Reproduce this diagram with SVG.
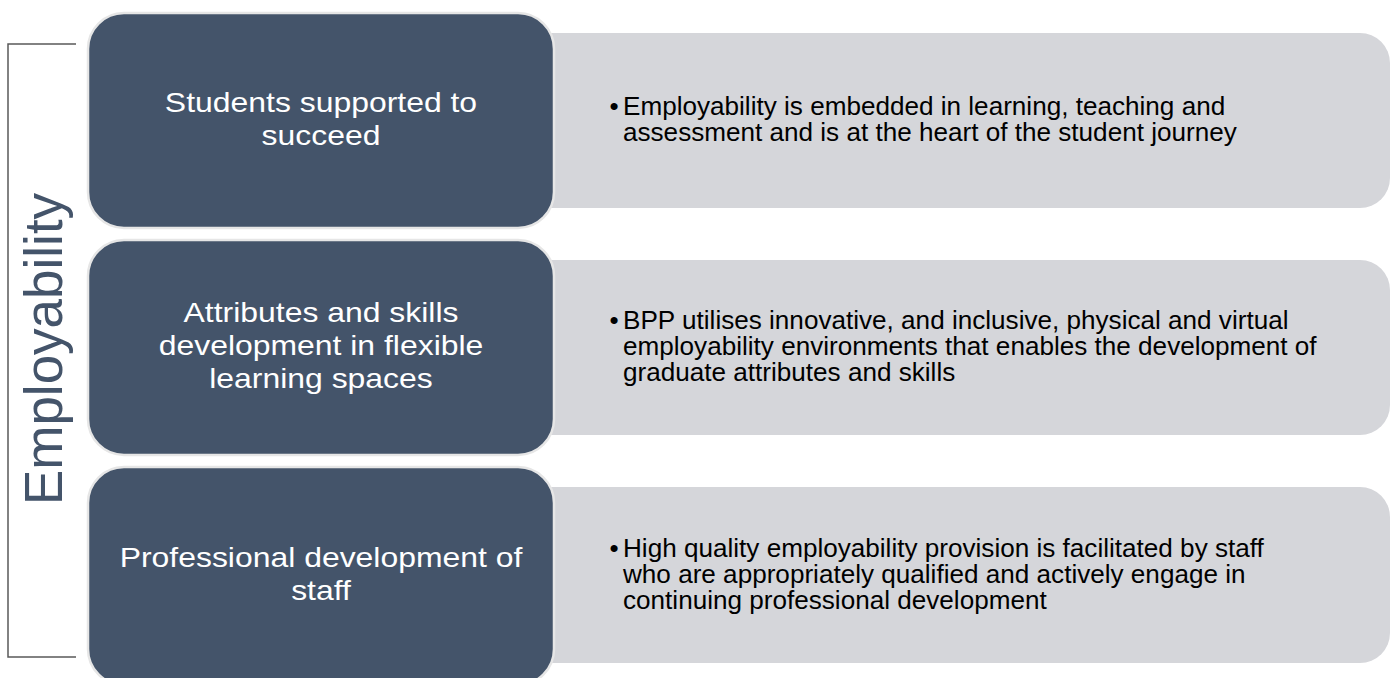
<svg xmlns="http://www.w3.org/2000/svg" width="1396" height="678" viewBox="0 0 1396 678">
  <style>
    .light { fill: #D5D6DA; }
    .dark { fill: #44546A; stroke: #E6E6E6; stroke-width: 2.5; }
    .dtext { font-family: "Liberation Sans", Arial, sans-serif; font-size: 28.5px; fill: #FFFFFF; text-anchor: middle; }
    .ltext { font-family: "Liberation Sans", Arial, sans-serif; font-size: 25px; fill: #000000; }
    .vtext { font-family: "Liberation Sans", Arial, sans-serif; font-size: 53px; fill: #44546A; text-anchor: middle; }
    .bracket { fill: none; stroke: #595959; stroke-width: 1.5; }
  </style>
  <rect width="1396" height="678" fill="#FFFFFF"/>
  <g id="connectors">
    <path class="bracket" d="M76,44 H8 V657 H76"/>
  </g>
  <g id="title">
    <text class="vtext" transform="translate(62,349) rotate(-90)">Employability</text>
  </g>
  <g id="detail1">
    <rect class="light" x="520" y="33" width="870" height="175" rx="30" ry="30"/>
    <g transform="translate(623,0) scale(1.045,1)">
      <text class="ltext" x="-13" y="115">•</text>
      <text class="ltext" x="0" y="115">Employability is embedded in learning, teaching and</text>
      <text class="ltext" x="0" y="141">assessment and is at the heart of the student journey</text>
    </g>
  </g>
  <g id="detail2">
    <rect class="light" x="520" y="260" width="870" height="175" rx="30" ry="30"/>
    <g transform="translate(623,0) scale(1.045,1)">
      <text class="ltext" x="-13" y="329">•</text>
      <text class="ltext" x="0" y="329">BPP utilises innovative, and inclusive, physical and virtual</text>
      <text class="ltext" x="0" y="355">employability environments that enables the development of</text>
      <text class="ltext" x="0" y="381">graduate attributes and skills</text>
    </g>
  </g>
  <g id="detail3">
    <rect class="light" x="520" y="487" width="870" height="176" rx="30" ry="30"/>
    <g transform="translate(623,0) scale(1.045,1)">
      <text class="ltext" x="-13" y="557">•</text>
      <text class="ltext" x="0" y="557">High quality employability provision is facilitated by staff</text>
      <text class="ltext" x="0" y="583">who are appropriately qualified and actively engage in</text>
      <text class="ltext" x="0" y="609">continuing professional development</text>
    </g>
  </g>
  <g id="node1">
    <rect class="dark" x="88" y="13" width="466" height="215" rx="36" ry="36"/>
    <g transform="translate(321,0) scale(1.12,1)">
      <text class="dtext" x="0" y="112">Students supported to</text>
      <text class="dtext" x="0" y="145">succeed</text>
    </g>
  </g>
  <g id="node2">
    <rect class="dark" x="88" y="240" width="466" height="215" rx="36" ry="36"/>
    <g transform="translate(321,0) scale(1.12,1)">
      <text class="dtext" x="0" y="322.5">Attributes and skills</text>
      <text class="dtext" x="0" y="355.5">development in flexible</text>
      <text class="dtext" x="0" y="388.5">learning spaces</text>
    </g>
  </g>
  <g id="node3">
    <rect class="dark" x="88" y="467" width="466" height="218" rx="36" ry="36"/>
    <g transform="translate(321,0) scale(1.12,1)">
      <text class="dtext" x="0" y="567">Professional development of</text>
      <text class="dtext" x="0" y="600">staff</text>
    </g>
  </g>
</svg>
